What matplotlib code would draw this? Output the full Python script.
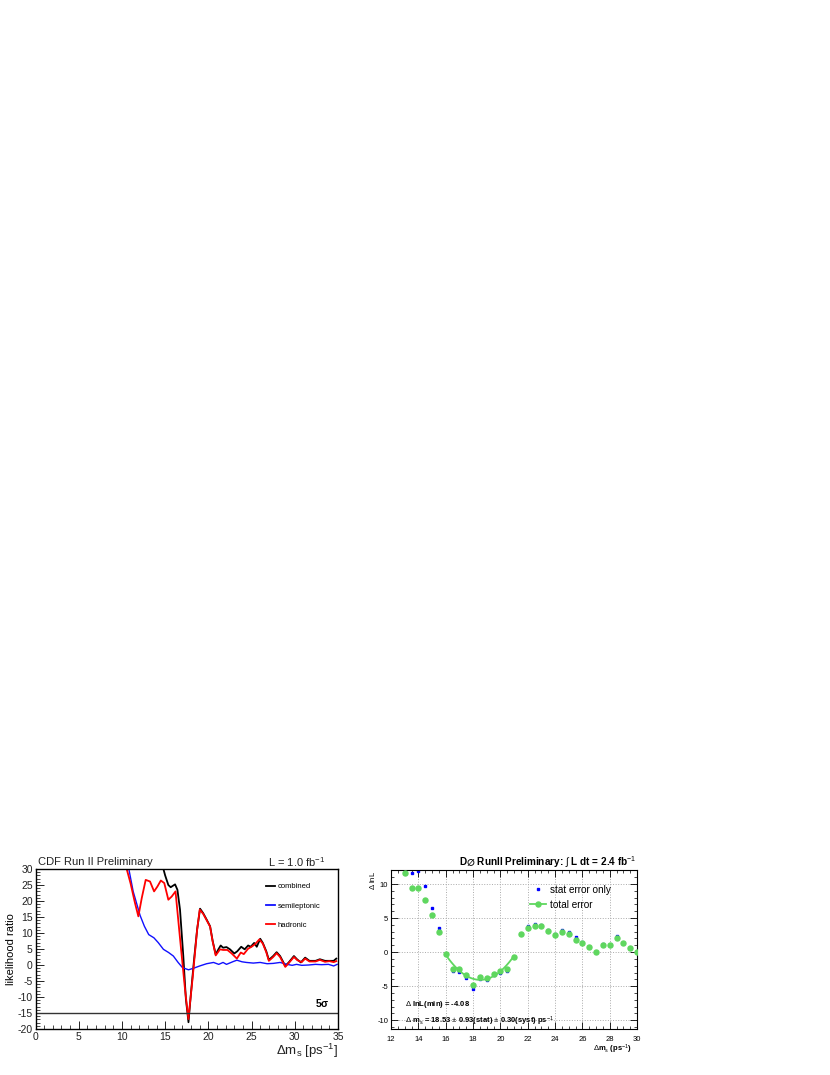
#!/usr/bin/env python3
# -*- coding: utf-8 -*-
"""CDF / DØ Delta m_s likelihood scans, side by side at the bottom of a page."""

import numpy as np
import matplotlib
matplotlib.use("Agg")
import matplotlib.pyplot as plt
from matplotlib.ticker import MultipleLocator

plt.rcParams['font.family'] = ['Liberation Sans', 'DejaVu Sans']
plt.rcParams['mathtext.fontset'] = 'custom'
plt.rcParams['mathtext.rm'] = 'Liberation Sans'
plt.rcParams['mathtext.it'] = 'Liberation Sans:italic'
plt.rcParams['mathtext.bf'] = 'Liberation Sans:bold'
plt.rcParams['axes.unicode_minus'] = False

# ---------------------------------------------------------------------------
# CDF scan (left)
# ---------------------------------------------------------------------------
comb_x = [10.0, 14.7, 15.0, 15.37, 15.64, 16.15, 16.42, 16.72, 17.1, 17.4, 17.7,
          17.96, 18.35, 18.7, 19.04, 19.4, 19.8, 20.2, 20.5, 20.85, 21.16, 21.43,
          21.7, 22.1, 22.5, 23.0, 23.35, 23.8, 24.2, 24.6, 24.9, 25.3, 25.6, 26.0,
          26.3, 26.7, 27.0, 27.5, 27.9, 28.3, 28.9, 29.3, 29.9, 30.25, 30.7, 31.2,
          31.7, 32.4, 32.9, 33.5, 34.0, 34.5, 34.8]
comb_y = [40.0, 31.0, 28.0, 25.0, 24.3, 25.2, 23.5, 17.3, 2.8, -10.6, -17.9,
          -9.6, 1.8, 11.1, 17.6, 16.2, 14.2, 12.1, 7.5, 3.3, 4.9, 6.1,
          5.4, 5.6, 4.9, 3.6, 4.3, 5.7, 4.9, 6.1, 5.7, 6.9, 5.7, 8.2,
          6.9, 4.3, 1.6, 2.8, 4.0, 2.8, -0.3, 0.8, 2.8, 1.8, 0.8, 2.3,
          1.3, 1.3, 1.8, 1.3, 1.3, 1.3, 2.0]

had_x = [10.2, 10.55, 11.0, 11.5, 11.9, 12.3, 12.75, 13.25, 13.72, 14.1, 14.5,
         14.9, 15.37, 15.76, 16.2, 16.7, 17.3, 17.69, 18.2, 18.7, 19.0, 19.4,
         19.8, 20.2, 20.5, 20.85, 21.35, 21.7, 22.2, 22.7, 23.3, 23.75, 24.1,
         24.6, 25.0, 25.4, 25.9, 26.3, 26.7, 27.0, 27.5, 27.9, 28.3, 28.9, 29.3,
         29.9, 30.3, 30.8, 31.2, 31.7, 32.4, 32.9, 33.5, 34.0, 34.5, 34.8]
had_y = [33.0, 30.0, 25.5, 19.5, 15.2, 21.0, 26.6, 26.1, 23.0, 24.5, 26.4,
         25.6, 20.4, 21.4, 23.0, 8.9, -7.6, -16.9, -3.5, 11.0, 17.3, 16.0,
         14.0, 12.0, 7.3, 3.0, 4.9, 4.7, 4.7, 3.6, 2.0, 3.9, 3.4,
         5.1, 5.7, 6.5, 8.0, 6.7, 4.0, 1.3, 2.5, 3.7, 2.5, -0.6, 0.6,
         2.5, 1.5, 0.9, 2.0, 1.1, 1.1, 1.6, 1.0, 1.2, 0.9, 1.2]

semi_x = [10.5, 10.8, 11.3, 12.1, 12.6, 13.1, 13.7, 14.2, 14.8, 15.4, 15.95,
          16.5, 17.0, 17.7, 18.3, 19.0, 19.8, 20.6, 21.2, 21.7, 22.1, 22.9,
          23.3, 23.9, 24.4, 25.2, 26.0, 26.8, 27.5, 28.3, 29.1, 29.7, 30.2,
          30.8, 31.6, 32.4, 33.1, 33.9, 34.5, 34.9]
semi_y = [33.0, 30.0, 23.0, 15.5, 12.1, 9.5, 8.5, 7.0, 4.9, 3.9, 2.8,
          0.8, -0.8, -1.5, -1.0, -0.3, 0.4, 0.8, 0.2, 0.8, 0.2, 1.1,
          1.5, 1.0, 0.8, 0.6, 0.8, 0.4, 0.5, 0.8, 0.2, -0.1, 0.2,
          -0.1, 0.0, 0.2, 0.1, 0.2, -0.3, 0.2]

five_sigma = -15.0

# ---------------------------------------------------------------------------
# DØ scan (right)
# ---------------------------------------------------------------------------
d0_x = [13.0, 13.5, 14.0, 14.5, 15.0, 15.5, 16.0, 16.5, 17.0, 17.5, 18.0,
        18.5, 19.0, 19.5, 20.0, 20.5, 21.0, 21.5, 22.0, 22.5, 23.0, 23.5,
        24.0, 24.5, 25.0, 25.5, 26.0, 26.5, 27.0, 27.5, 28.0, 28.5, 29.0,
        29.5, 30.0]
total_err = [11.65, 9.37, 9.37, 7.67, 5.39, 2.96, -0.34, -2.43, -2.43, -3.35, -4.8,
             -3.6, -3.74, -3.25, -2.77, -2.52, -0.73, 2.67, 3.54, 3.83, 3.83, 3.06,
             2.57, 3.0, 2.67, 1.84, 1.31, 0.73, 0.0, 0.97, 0.97, 2.09, 1.31,
             0.58, -0.05]
stat_only = [11.6, 11.65, 11.94, 9.76, 6.55, 3.5, -0.3, -2.82, -2.86, -3.88, -5.44,
             -3.98, -4.13, -3.4, -3.0, -2.77, -0.7, 2.7, 3.88, 4.13, 3.98, 3.3,
             2.6, 3.3, 2.96, 2.23, 1.46, 0.73, 0.0, 1.21, 0.97, 2.43, 1.31,
             0.58, -0.05]

fit_mean = 18.53
fit_sigma = 0.93
fit_min = -4.08
fit_range = (16.0, 21.0)

GREEN = '#5fd75f'


def px(x, y):
    """Pixel position on the 830x1075 page -> figure fraction."""
    return x / 830.0, 1.0 - y / 1075.0


fig = plt.figure(figsize=(8.3, 10.75), dpi=100)

# --- left panel ------------------------------------------------------------
axl = fig.add_axes([35.5 / 830, 1 - 1029 / 1075, 302.5 / 830, 160 / 1075])
axl.plot(comb_x, comb_y, color='black', lw=1.3, label='combined')
axl.plot(semi_x, semi_y, color='#1010ff', lw=1.0, label='semileptonic')
axl.plot(had_x, had_y, color='#ff0000', lw=1.3, label='hadronic')
axl.axhline(five_sigma, color='#333333', lw=1.0)
axl.text(34.0, five_sigma + 1.2, r'5$\mathbf{\sigma}$', fontsize=7.5,
         fontweight='bold', ha='right', va='bottom')

axl.set_xlim(0, 35)
axl.set_ylim(-20, 30)
axl.xaxis.set_major_locator(MultipleLocator(5))
axl.xaxis.set_minor_locator(MultipleLocator(1))
axl.yaxis.set_major_locator(MultipleLocator(5))
axl.yaxis.set_minor_locator(MultipleLocator(1))
axl.tick_params(which='both', direction='in', labelsize=7.5, pad=2,
                colors='black', labelcolor='#222222')
axl.tick_params(which='major', length=6, width=0.6)
axl.tick_params(which='minor', length=3, width=0.5)
for s in axl.spines.values():
    s.set_linewidth(1.0)
axl.set_ylabel('likelihood ratio', fontsize=8, labelpad=1)
leg = axl.legend(loc='upper left', bbox_to_anchor=(0.74, 0.955), frameon=False,
                 fontsize=5.5, handlelength=1.2, handletextpad=0.3,
                 labelspacing=1.55)
for h in leg.get_lines():
    h.set_linewidth(1.3)

fig.text(*px(38, 862), 'CDF Run II Preliminary', fontsize=8, va='center',
         color='#222222')
fig.text(*px(325, 862), r'L = 1.0 fb$^{-1}$', fontsize=8, va='center',
         ha='right', color='#222222')
fig.text(*px(338, 1051), r'$\Delta$m$_{\rm s}$ [ps$^{-1}$]', fontsize=9.5,
         va='center', ha='right', color='#222222')

# --- right panel -----------------------------------------------------------
axr = fig.add_axes([391 / 830, 1 - 1029 / 1075, 246 / 830, 159 / 1075])
axr.grid(True, which='major', color='#aaaaaa', ls=':', lw=0.7)
axr.plot(d0_x, stat_only, ls='none', marker='s', ms=2.0, color='#0000ff',
         label='stat error only', zorder=2)
axr.plot(d0_x, total_err, ls='none', marker='o', ms=3.6, color=GREEN,
         mec=GREEN, zorder=3)
xf = np.linspace(fit_range[0], fit_range[1], 100)
axr.plot(xf, fit_min + (xf - fit_mean) ** 2 / (2 * fit_sigma ** 2),
         color=GREEN, lw=1.3, zorder=3)
# legend proxy for line+marker
axr.plot([], [], color=GREEN, lw=1.3, marker='o', ms=3.6,
         label='total error')

axr.set_xlim(12, 30)
axr.set_ylim(-11.3, 12.06)
axr.xaxis.set_major_locator(MultipleLocator(2))
axr.xaxis.set_minor_locator(MultipleLocator(0.5))
axr.yaxis.set_major_locator(MultipleLocator(5))
axr.yaxis.set_minor_locator(MultipleLocator(1))
axr.tick_params(which='both', direction='in', top=True, right=True,
                labelsize=5.5, pad=2)
axr.tick_params(axis='x', which='both', pad=5)
axr.tick_params(which='major', length=5, width=0.6)
axr.tick_params(which='minor', length=2.5, width=0.5)
for s in axr.spines.values():
    s.set_linewidth(0.8)
axr.legend(loc='upper left', bbox_to_anchor=(0.53, 0.965), frameon=False,
           fontsize=7.2, handlelength=1.6, handletextpad=0.4, labelspacing=0.5,
           numpoints=1)

fig.text(*px(636, 862),
         r'D$\mathbf{\varnothing}$ RunII Preliminary: $\int$ L dt = 2.4 fb$^{-1}$',
         fontsize=7.2, fontweight='bold', ha='right', va='center')
fig.text(*px(372, 880), r'$\Delta$ lnL', fontsize=5.5, rotation=90,
         ha='center', va='center')
fig.text(*px(632, 1049), r'$\Delta$m$_{\rm s}$ (ps$^{-1}$)', fontsize=5.5,
         fontweight='bold', ha='right', va='center')
fig.text(*px(405, 1004), r'$\Delta$ lnL(min) = -4.08', fontsize=5.5,
         fontweight='bold', va='center')
fig.text(*px(405, 1021),
         r'$\Delta$ m$_{\rm s}$ = 18.53 $\pm$ 0.93(stat) $\pm$ 0.30(syst) ps$^{-1}$',
         fontsize=5.5, fontweight='bold', va='center')

fig.savefig('out.png', dpi=100)
